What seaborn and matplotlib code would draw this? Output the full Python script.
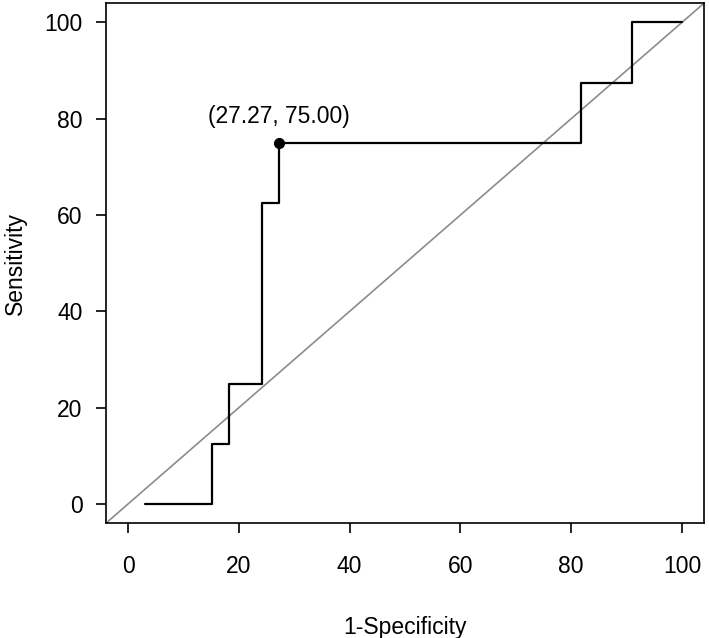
import numpy as np
import pandas as pd
import matplotlib
matplotlib.use("Agg")
import matplotlib.pyplot as plt
import seaborn as sns

# ROC curve points (1-specificity, sensitivity)
fpr = [3.03, 15.15, 18.18, 24.24, 27.27, 81.82, 90.91, 100.0]
tpr = [0.0, 12.5, 25.0, 62.5, 75.0, 87.5, 100.0, 100.0]
best_x = 27.27
best_y = 75.00
ticks = [0, 20, 40, 60, 80, 100]

df = pd.DataFrame({"fpr": fpr, "tpr": tpr})

sns.set_style("ticks")
plt.rcParams["font.family"] = ["Liberation Sans", "DejaVu Sans"]
plt.rcParams["text.color"] = "black"
plt.rcParams["axes.labelcolor"] = "black"
plt.rcParams["xtick.color"] = "black"
plt.rcParams["ytick.color"] = "black"

fig = plt.figure(figsize=(7.09, 6.38), dpi=100)
ax = fig.add_axes([0.1495, 0.180, 0.8435, 0.815])

ax.plot([-10, 110], [-10, 110], color="#8c8c8c", lw=1.2, zorder=1)
sns.lineplot(data=df, x="fpr", y="tpr", sort=False, drawstyle="steps-post",
             color="black", lw=1.6, ax=ax, zorder=2)
ax.plot([best_x], [best_y], "o", color="black", ms=7, zorder=3)
ax.text(best_x, best_y + 3.0, f"({best_x:.2f}, {best_y:.2f})",
        ha="center", va="bottom", fontsize=16.5)

ax.set_xlim(-4, 104)
ax.set_ylim(-4, 104)
ax.set_xticks(ticks)
ax.set_yticks(ticks)
ax.tick_params(labelsize=16.5, length=7, width=1.2, pad=10, direction="out")
ax.tick_params(axis="x", pad=16)
for s in ax.spines.values():
    s.set_linewidth(1.2)
    s.set_color("black")
ax.set_xlabel("1-Specificity", fontsize=16.5, va="center")
ax.set_ylabel("Sensitivity", fontsize=16.5, va="center")
ax.xaxis.set_label_coords(0.5, -0.20)
ax.yaxis.set_label_coords(-0.152, 0.5)

fig.savefig("out.png", dpi=100)
